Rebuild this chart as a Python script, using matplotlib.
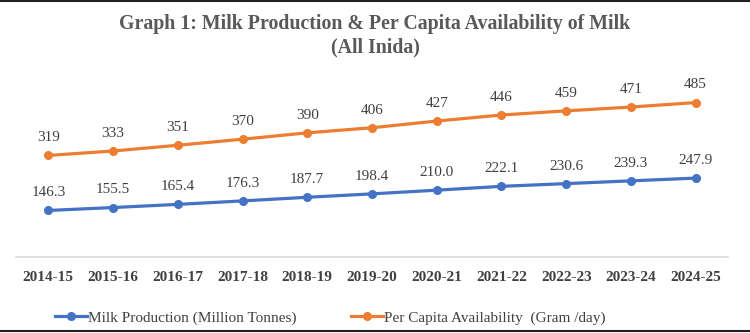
import matplotlib.pyplot as plt
from matplotlib.lines import Line2D

years = ['2014-15', '2015-16', '2016-17', '2017-18', '2018-19', '2019-20',
         '2020-21', '2021-22', '2022-23', '2023-24', '2024-25']
milk_production = [146.3, 155.5, 165.4, 176.3, 187.7, 198.4, 210.0, 222.1, 230.6, 239.3, 247.9]
per_capita = [319, 333, 351, 370, 390, 406, 427, 446, 459, 471, 485]

plt.rcParams['font.family'] = ['Liberation Serif', 'DejaVu Serif']

fig = plt.figure(figsize=(7.5, 3.33), dpi=100)
ax = fig.add_axes([0.0213, 0.228, 0.9494, 0.574])

x = range(len(years))
ax.plot(x, milk_production, color='#4472C4', lw=2.3, marker='o', ms=5.5,
        label='Milk Production (Million Tonnes)')
ax.plot(x, per_capita, color='#ED7D31', lw=2.3, marker='o', ms=5.5,
        label='Per Capita Availability  (Gram /day)')

for i in x:
    ax.annotate(f'{milk_production[i]:.1f}', (i, milk_production[i]), xytext=(0, 8),
                textcoords='offset points', ha='center', va='bottom',
                fontsize=11, color='#404040')
    ax.annotate(f'{per_capita[i]}', (i, per_capita[i]), xytext=(0, 8),
                textcoords='offset points', ha='center', va='bottom',
                fontsize=11, color='#404040')

ax.set_xlim(-0.5, len(years) - 0.5)
ax.set_ylim(0, 600)
ax.set_xticks(list(x))
ax.set_xticklabels(years, fontsize=11, fontweight='bold', color='#404040')
ax.tick_params(axis='x', length=0, pad=10)
ax.set_yticks([])
for s in ['top', 'right', 'left']:
    ax.spines[s].set_visible(False)
ax.spines['bottom'].set_color('#D9D9D9')
ax.spines['bottom'].set_linewidth(1.2)

fig.text(0.5, 0.928, 'Graph 1: Milk Production & Per Capita Availability of Milk',
         ha='center', va='center', fontsize=14.3, fontweight='bold', color='#595959')
fig.text(0.5, 0.857, '(All Inida)', ha='center', va='center',
         fontsize=14.3, fontweight='bold', color='#595959')

fig.legend(loc='center', bbox_to_anchor=(0.44, 0.045), ncol=2, frameon=False,
           fontsize=11, labelcolor='#404040', handlelength=2.1,
           handletextpad=0.05, columnspacing=3.6)

# top and bottom frame lines
fig.add_artist(Line2D([0, 1], [0.996, 0.996], color='#222222', lw=1.5))
fig.add_artist(Line2D([0, 1], [0.006, 0.006], color='#222222', lw=1.5))

fig.savefig('out.png', dpi=100)
